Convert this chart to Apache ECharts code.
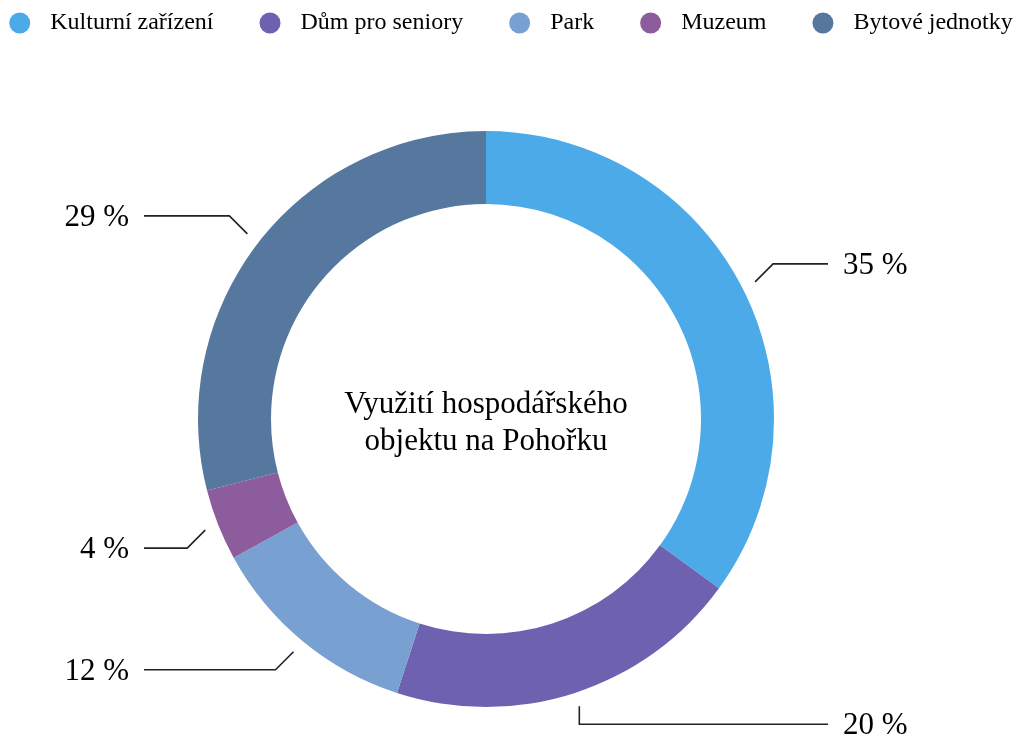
<!DOCTYPE html>
<html>
<head>
<meta charset="utf-8">
<title>Využití hospodářského objektu na Pohořku</title>
<script src="https://cdn.jsdelivr.net/npm/echarts@6/dist/echarts.min.js"></script>
<style>
  html, body { margin: 0; padding: 0; background: #fff; }
  #chart { width: 1022px; height: 740px; }
</style>
</head>
<body>
<div id="chart"></div>
<script>
// kategorie (legenda i výseče)
const categories = ['Kulturní zařízení', 'Dům pro seniory', 'Park', 'Muzeum', 'Bytové jednotky'];
// podíly v %
const shares = [35, 20, 12, 4, 29];
const colors = ['#4DAAE8', '#6E62B0', '#78A0D0', '#8C5C9C', '#56789E'];
const titleText = 'Využití hospodářského\nobjektu na Pohořku';

// geometrie prstence a popisků
const CX = 486, CY = 419;
const R_IN = 215, R_OUT = 288;
const GAP = 14;        // mezera mezi prstencem a začátkem vodicí čáry
const CROOK = 18;      // délka zalomení
const REACH = 342;     // kam až sahají vodorovné čáry (od středu)
const LABEL_GAP = 15;
const FONT = '"Liberation Serif", "Times New Roman", serif';

const chart = echarts.init(document.getElementById('chart'));

// zalomené vodicí čáry, konce zarovnané symetricky
function labelLayout(params) {
  const pts = params.labelLinePoints;
  if (!pts) return {};
  const dx = pts[0][0] - CX;
  const dy = pts[0][1] - CY;
  const len = Math.hypot(dx, dy);
  const ux = dx / len, uy = dy / len;
  const sx = pts[0][0] + ux * GAP;
  const sy = pts[0][1] + uy * GAP;
  const dirX = ux >= 0 ? 1 : -1;
  const dirY = uy >= 0 ? 1 : -1;
  const lineY = sy + dirY * CROOK;
  const bendX = Math.abs(ux) < 0.4 ? sx : sx + dirX * CROOK;
  const endX = CX + dirX * REACH;
  return {
    x: endX + dirX * LABEL_GAP,
    y: lineY + 2,
    align: dirX > 0 ? 'left' : 'right',
    verticalAlign: 'middle',
    labelLinePoints: [[sx, sy], [bendX, lineY], [endX, lineY]]
  };
}

const options = {
  backgroundColor: '#fff',
  color: colors,
  legend: {
    data: categories,
    top: 6,
    left: 'center',
    icon: 'circle',
    itemWidth: 21,
    itemHeight: 21,
    itemGap: 46,
    selectedMode: false,
    textStyle: {
      fontFamily: FONT,
      fontSize: 24,
      color: '#000',
      padding: [0, 0, 0, 15]
    }
  },
  graphic: [{
    type: 'text',
    x: CX,
    y: CY + 4,
    silent: true,
    style: {
      text: titleText,
      fontFamily: FONT,
      fontSize: 31,
      lineHeight: 37,
      fill: '#000',
      align: 'center',
      verticalAlign: 'middle'
    }
  }],
  series: [{
    type: 'pie',
    center: [CX, CY],
    radius: [R_IN, R_OUT],
    startAngle: 90,
    clockwise: true,
    avoidLabelOverlap: false,
    emphasis: { disabled: true },
    label: {
      show: true,
      position: 'outside',
      fontFamily: FONT,
      fontSize: 31,
      color: '#000',
      formatter: function (p) { return Math.round(p.percent) + ' %'; }
    },
    labelLine: {
      show: true,
      length: 10,
      length2: 10,
      lineStyle: { color: '#222', width: 1.6 }
    },
    labelLayout: labelLayout,
    data: categories.map(function (name, i) {
      return { name: name, value: shares[i] };
    })
  }]
};

chart.setOption(options, true);
</script>
</body>
</html>
